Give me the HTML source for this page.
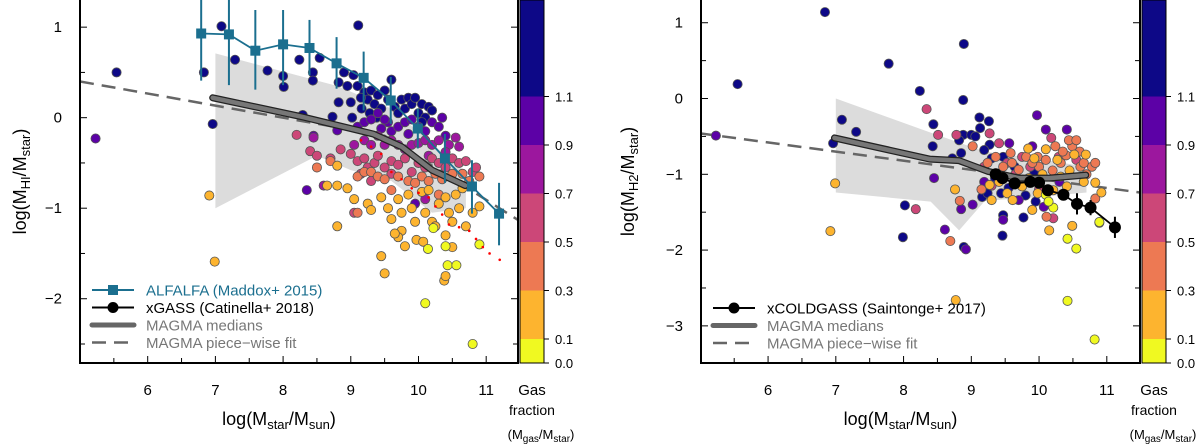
<!DOCTYPE html>
<html><head><meta charset="utf-8"><style>
html,body{margin:0;padding:0;background:#fff;width:1200px;height:445px;overflow:hidden}
svg{display:block;font-family:"Liberation Sans",sans-serif}
</style></head><body>
<svg id="chart" width="1200" height="445" viewBox="0 0 1200 445" xmlns="http://www.w3.org/2000/svg"></svg>
<script>
// ---------- data: left panel (HI) ----------
const hiC6=[[5.54,0.50],[6.83,0.50],[6.96,-0.07],[7.09,1.01],[7.29,0.64],[7.77,0.52],[8.0,0.46],[8.01,0.34],[8.24,0.64],[8.44,0.50],[8.44,0.41],[8.54,0.66],[9.11,1.02],[8.29,0.03],[8.73,0.01],[8.82,0.39],[8.82,0.17],[8.90,0.50],[9.04,0.47],[9.0,0.17],[9.02,0.0],[9.16,0.10],[9.1,0.35],[9.2,0.28],[9.25,0.2],[9.3,0.3],[9.35,0.15],[9.4,0.25],[9.45,0.1],[9.5,0.3],[9.55,0.2],[9.6,0.42],[9.65,0.12],[9.7,0.05],[9.75,0.2],[9.8,0.1],[9.85,0.22],[9.9,0.15],[9.95,0.22],[10.0,0.05],[10.05,0.15],[10.1,0.0],[10.15,0.12],[10.2,0.08],[9.28,0.05],[9.38,0.0],[9.15,0.22],[10.05,-0.05],[8.95,0.35]];
const hiC5=[[5.23,-0.23],[8.45,-0.2],[8.8,-0.14],[9.1,-0.1],[9.2,-0.05],[9.3,-0.02],[9.4,0.05],[9.45,-0.12],[9.55,-0.05],[9.6,-0.15],[9.7,-0.1],[9.8,-0.05],[9.9,-0.02],[10.0,-0.1],[10.1,-0.15],[10.2,-0.05],[10.3,-0.1],[10.35,0.0],[10.4,-0.2],[8.35,-0.8],[9.95,-0.95],[9.5,-0.02],[9.85,-0.18]];
const hiC4=[[8.45,-0.22],[9.05,-0.3],[9.2,-0.25],[9.3,-0.3],[9.4,-0.2],[9.5,-0.3],[9.6,-0.25],[9.7,-0.3],[9.8,-0.35],[9.9,-0.3],[10.0,-0.28],[10.1,-0.25],[10.2,-0.3],[10.3,-0.25],[10.45,-0.3],[10.55,-0.22],[10.6,-0.32],[10.4,-0.38],[10.15,-0.42],[8.6,-0.75],[10.1,-0.9]];
const hiC3=[[8.2,-0.19],[8.4,-0.37],[8.5,-0.42],[8.7,-0.45],[9.0,-0.4],[9.1,-0.48],[9.2,-0.45],[9.25,-0.55],[9.35,-0.5],[9.4,-0.42],[9.5,-0.55],[9.6,-0.48],[9.7,-0.52],[9.8,-0.45],[9.9,-0.6],[10.0,-0.5],[10.1,-0.55],[10.2,-0.45],[10.3,-0.5],[10.4,-0.55],[10.5,-0.45],[10.6,-0.5],[10.7,-0.48],[9.3,-0.7],[9.6,-0.62],[10.8,-0.6],[10.85,-0.55],[8.85,-0.35],[9.05,-1.05],[9.15,-0.62]];
const hiC2=[[8.5,-0.55],[8.7,-0.48],[9.1,-0.65],[9.2,-0.6],[9.3,-0.6],[9.4,-0.65],[9.5,-0.68],[9.7,-0.65],[9.85,-0.7],[9.95,-0.72],[10.05,-0.65],[10.15,-0.7],[10.25,-0.62],[10.35,-0.68],[10.5,-0.62],[10.65,-0.62],[10.75,-0.7],[10.9,-0.65],[9.6,-0.8],[10.3,-0.85],[9.1,-1.05]];
const hiC1=[[6.91,-0.86],[6.99,-1.59],[8.65,-0.75],[8.8,-0.75],[8.8,-0.53],[8.95,-0.78],[9.05,-0.9],[9.25,-0.95],[9.3,-1.02],[9.45,-0.88],[9.55,-1.0],[9.6,-1.12],[9.7,-0.9],[9.75,-1.05],[9.85,-0.85],[9.9,-1.0],[9.95,-1.15],[10.05,-0.82],[10.1,-1.05],[10.15,-0.8],[10.2,-1.15],[10.25,-1.2],[10.3,-0.95],[10.4,-0.88],[10.45,-1.05],[10.5,-1.15],[10.55,-0.85],[10.6,-1.0],[10.7,-1.2],[10.8,-1.05],[10.9,-0.98],[10.65,-0.78],[8.8,-1.2],[9.45,-1.53],[9.5,-1.72],[9.75,-1.25],[9.8,-1.42],[9.7,-1.32],[9.97,-1.35],[10.07,-1.37],[10.4,-1.3],[10.5,-1.43],[10.38,-1.8],[10.4,-1.75],[9.65,-1.28]];
const hiC0=[[10.22,-1.22],[10.14,-1.45],[10.4,-1.42],[10.43,-1.63],[10.56,-1.63],[10.9,-1.4],[10.1,-2.05],[10.8,-2.5]];
const hiRed=[[9.15,-0.25],[9.3,-0.32],[9.45,-0.4],[9.6,-0.6],[9.75,-0.68],[9.9,-0.78],[10.0,-0.83],[10.15,-0.88],[10.25,-0.98],[10.35,-1.07],[10.45,-1.18],[10.6,-1.21],[10.75,-1.25],[10.85,-1.34],[10.95,-1.43],[11.05,-1.5],[11.2,-1.57]];
const alfX=[6.79,7.20,7.59,8.0,8.39,8.79,9.19,9.59,9.99,10.39,10.79,11.19];
const alfY=[0.93,0.92,0.74,0.81,0.77,0.60,0.44,0.19,-0.12,-0.45,-0.76,-1.06];
const alfHi=[1.5,1.5,1.19,1.19,1.08,0.89,0.73,0.45,0.10,-0.18,-0.47,-0.72];
const alfLo=[0.41,0.36,0.31,0.36,0.47,0.32,0.08,-0.07,-0.34,-0.72,-1.06,-1.41];
const hiMedX=[6.96,8.28,9.33,9.75,10.2,10.69];
const hiMedY=[0.22,0.01,-0.18,-0.32,-0.58,-0.75];
const hiFitX=[5.0,9.5,11.47];
const hiFitY=[0.40,-0.20,-1.13];
const hiShadeX=[7,8.8,9.6,10.3,10.7,10.7,10.2,9.6,9.0,8.5,7];
const hiShadeY=[0.71,0.35,0.1,-0.35,-0.6,-1.0,-1.05,-0.7,-0.58,-0.42,-1.0];
// ---------- data: right panel (H2) ----------
const h2C6=[[6.84,1.14],[5.55,0.19],[7.78,0.46],[8.89,0.72],[8.24,0.10],[8.88,-0.02],[7.09,-0.28],[7.30,-0.44],[6.96,-0.59],[8.44,-0.34],[9.12,-0.25],[9.26,-0.30],[9.13,-0.39],[8.43,-0.63],[8.85,-0.72],[8.72,-0.79],[8.88,-0.48],[9.0,-0.48],[8.82,-0.55],[9.06,-0.5],[9.27,-0.61],[9.19,-0.68],[8.02,-1.41],[7.99,-1.83],[9.46,-1.81],[9.47,-1.54],[9.77,-1.57],[9.95,-1.36],[8.89,-1.96],[9.64,-0.9],[9.3,-0.79],[9.47,-0.77],[9.16,-1.3],[9.44,-1.25],[9.24,-1.25],[9.93,-0.99],[9.35,-1.05],[9.55,-1.18],[9.8,-1.28]];
const h2C5=[[5.23,-0.49],[9.97,-0.22],[10.1,-0.41],[10.41,-0.41],[8.45,-1.05],[8.61,-1.73],[8.85,-1.46],[9.02,-1.40],[8.92,-1.99],[9.47,-1.6],[9.56,-0.59],[9.9,-0.63],[9.41,-0.99],[9.75,-1.07],[9.19,-1.1],[10.07,-1.43],[9.7,-1.34],[10.3,-1.1]];
const h2C3=[[8.34,-0.14],[8.51,-0.48],[8.78,-0.48],[9.27,-0.46],[8.18,-1.46],[9.41,-0.59],[9.75,-0.77],[10.18,-0.52],[10.29,-0.77],[9.87,-0.9],[10.21,-1.58],[9.19,-0.9],[9.53,-0.85],[10.55,-0.81],[9.65,-1.0],[10.0,-1.2],[9.3,-1.15]];
const h2C2=[[9.36,-0.77],[9.58,-0.72],[9.81,-0.77],[9.98,-0.77],[10.24,-0.63],[10.49,-0.63],[10.61,-0.90],[10.78,-0.90],[10.83,-0.85],[10.10,-0.81],[10.32,-0.85],[10.44,-0.55],[10.66,-0.85],[9.24,-0.85],[9.47,-0.90],[9.70,-0.94],[10.55,-0.55],[10.83,-1.32],[10.11,-1.56],[8.83,-1.35],[8.69,-1.88],[9.02,-0.63],[10.0,-0.9],[10.2,-0.95],[10.4,-0.75],[10.6,-0.7],[10.7,-1.0],[9.6,-0.85],[9.9,-0.85],[10.35,-0.7],[9.15,-1.2]];
const h2C1=[[6.99,-1.12],[6.92,-1.75],[8.76,-1.2],[8.77,-2.66],[10.49,-1.68],[10.89,-1.64],[10.15,-1.74],[9.9,-1.47],[10.1,-0.67],[9.84,-0.66],[10.52,-0.74],[10.69,-0.74],[10.92,-1.24],[9.3,-1.34],[9.53,-1.25],[9.75,-1.16],[9.98,-1.25],[10.21,-1.21],[10.41,-1.16],[10.83,-1.11],[9.27,-1.14],[9.61,-1.34],[10.27,-0.81],[9.41,-1.1],[9.93,-0.79],[10.32,-1.03],[10.66,-1.1],[9.85,-1.05],[10.05,-1.0],[10.45,-0.95]];
const h2C0=[[10.42,-1.85],[10.55,-1.98],[10.89,-1.63],[10.42,-2.67],[10.82,-3.18],[10.1,-1.27],[10.21,-1.44],[10.14,-1.36]];
const cgX=[9.36,9.46,9.64,9.87,10.0,10.13,10.36,10.56,10.76,11.12];
const cgY=[-1.0,-1.05,-1.12,-1.10,-1.11,-1.21,-1.27,-1.39,-1.44,-1.70];
const cgErr=[0.05,0.05,0.05,0.05,0.05,0.06,0.07,0.14,0.1,0.14];
const h2MedX=[6.98,8.39,8.82,9.24,9.70,10.15,10.69];
const h2MedY=[-0.52,-0.80,-0.82,-0.96,-1.05,-1.05,-1.01];
const h2FitX=[5.0,11.49];
const h2FitY=[-0.46,-1.24];
const h2ShadeX=[7,8.4,9.2,10,10.7,10.7,10,9.2,8.82,8.4,7];
const h2ShadeY=[0,-0.45,-0.7,-0.8,-0.9,-1.24,-1.3,-1.35,-1.74,-1.36,-1.24];
// colorbar
const cbBounds=[0.0,0.1,0.3,0.5,0.7,0.9,1.1,2.0];
const cbLabels=["0.0","0.1","0.3","0.5","0.7","0.9","1.1"];
const cbColors=["#f0f921","#fdb42f","#ed7953","#cc4778","#9c179e","#5c01a6","#0d0887"];

const NS="http://www.w3.org/2000/svg";
const svg=document.getElementById('chart');
function mk(tag,attrs,parent){const e=document.createElementNS(NS,tag);for(const k in attrs)e.setAttribute(k,attrs[k]);(parent||svg).appendChild(e);return e;}

function panel(cfg){
  const g=mk('g',{});
  
  
  const sx=v=>cfg.x0+(v-cfg.xmin)/(cfg.xmax-cfg.xmin)*(cfg.x1-cfg.x0);
  const sy=v=>cfg.y0+(cfg.ymax-v)/(cfg.ymax-cfg.ymin)*(cfg.y1-cfg.y0);
  const cp='clip-'+cfg.name;
  const defs=mk('defs',{},g);const c=mk('clipPath',{id:cp},defs);
  mk('rect',{x:cfg.x0,y:cfg.y0,width:cfg.x1-cfg.x0,height:cfg.y1-cfg.y0},c);
  const pg=mk('g',{'clip-path':'url(#'+cp+')'},g);
  const sh=mk('polygon',{points:cfg.shX.map((v,i)=>sx(v)+','+sy(cfg.shY[i])).join(' '),fill:'#dcdcdc'},pg);
  
  
  const fit=mk('polyline',{points:cfg.fitX.map((v,i)=>sx(v)+','+sy(cfg.fitY[i])).join(' '),fill:'none',stroke:'#666','stroke-width':2.5,'stroke-dasharray':'14,8'},pg);
  
  
  cfg.pts.forEach((arr,ci)=>{arr.forEach(p=>{
    const d=mk('circle',{cx:sx(p[0]),cy:sy(p[1]),r:4.6,fill:cbColors[cfg.cidx[ci]],stroke:'#555','stroke-width':0.8},pg);
    
    
  });});
  if(cfg.red) cfg.red.forEach(p=>{const d=mk('circle',{cx:sx(p[0]),cy:sy(p[1]),r:1.3,fill:'#f00'},pg);
    
    });
  const mp=cfg.medX.map((v,i)=>sx(v)+','+sy(cfg.medY[i])).join(' ');
  mk('polyline',{points:mp,fill:'none',stroke:'#222','stroke-width':7,'stroke-linejoin':'round','stroke-linecap':'round'},pg);
  const med=mk('polyline',{points:mp,fill:'none',stroke:'#777','stroke-width':4.5,'stroke-linejoin':'round','stroke-linecap':'round'},pg);
  
  
  if(cfg.alf){
    mk('polyline',{points:alfX.map((v,i)=>sx(v)+','+sy(alfY[i])).join(' '),fill:'none',stroke:'#1b6f8f','stroke-width':1.8},pg);
    alfX.forEach((v,i)=>{
      mk('line',{x1:sx(v),x2:sx(v),y1:sy(alfHi[i]),y2:sy(alfLo[i]),stroke:'#1b6f8f','stroke-width':2},pg);
      const s=mk('rect',{x:sx(v)-5,y:sy(alfY[i])-5,width:10,height:10,fill:'#1b6f8f'},pg);
      
      
    });
  }
  if(cfg.cg){
    mk('polyline',{points:cgX.map((v,i)=>sx(v)+','+sy(cgY[i])).join(' '),fill:'none',stroke:'#000','stroke-width':1.8},pg);
    cgX.forEach((v,i)=>{
      mk('line',{x1:sx(v),x2:sx(v),y1:sy(cgY[i]+cgErr[i]),y2:sy(cgY[i]-cgErr[i]),stroke:'#000','stroke-width':2},pg);
      const s=mk('circle',{cx:sx(v),cy:sy(cgY[i]),r:6,fill:'#000'},pg);
      
      
    });
  }
  for(let v=Math.ceil(cfg.xmin*2)/2;v<=cfg.xmax;v+=0.5){
    const L=Number.isInteger(v)?7:5;
    mk('line',{x1:sx(v),x2:sx(v),y1:cfg.y1,y2:cfg.y1-L,stroke:'#000','stroke-width':1},g);
  }
  for(let v=Math.ceil(cfg.ymin*2)/2;v<=cfg.ymax;v+=0.5){
    const L=Number.isInteger(v)?7:5;
    mk('line',{x1:cfg.x0,x2:cfg.x0+L,y1:sy(v),y2:sy(v),stroke:'#000','stroke-width':1},g);
    mk('line',{x1:cfg.x1,x2:cfg.x1-L,y1:sy(v),y2:sy(v),stroke:'#000','stroke-width':1},g);
  }
  cfg.xt.forEach(v=>{const t=mk('text',{x:sx(v),y:cfg.y1+32,'text-anchor':'middle','font-size':15},g);t.textContent=v;
    });
  cfg.yt.forEach(v=>{const t=mk('text',{x:cfg.x0-18,y:sy(v)+5,'text-anchor':'end','font-size':15},g);t.textContent=v<0?'\u2212'+(-v):v;
    });
  mk('rect',{x:cfg.x0,y:cfg.y0-2,width:cfg.x1-cfg.x0,height:cfg.y1-cfg.y0+2,fill:'none',stroke:'#000','stroke-width':2},g);
  const cb=mk('g',{},g);
  
  
  const cbY=v=>v<=0.1?cfg.y1-(v/0.1)*24:cfg.y1-24-(v-0.1)/0.2*48.5;
  cbColors.forEach((col,i)=>{
    const top=Math.max(cfg.y0,cbY(cbBounds[i+1])),bot=cbY(cbBounds[i]);
    mk('rect',{x:cfg.x1+2,y:top,width:24,height:bot-top,fill:col},cb);
  });
  mk('rect',{x:cfg.x1+2,y:cfg.y0,width:24,height:cfg.y1-cfg.y0,fill:'none',stroke:'#000','stroke-width':1},cb);
  cbLabels.forEach((l,i)=>{const yy=cbY(cbBounds[i]);
    mk('line',{x1:cfg.x1+26,x2:cfg.x1+31,y1:yy,y2:yy,stroke:'#000'},cb);
    const t=mk('text',{x:cfg.x1+37,y:yy+5,'font-size':13},cb);t.textContent=l;});
  const gt=[['Gas',cfg.y1+32,15],['fraction',cfg.y1+52,14]];
  gt.forEach(a=>{const t=mk('text',{x:cfg.x1+14,y:a[1],'text-anchor':'middle','font-size':a[2]},g);t.textContent=a[0];
    });
  const u=mk('text',{x:cfg.x1+23,y:cfg.y1+76,'text-anchor':'middle','font-size':13},g);
  u.innerHTML='(M<tspan font-size="10" dy="3">gas</tspan><tspan dy="-3">/M</tspan><tspan font-size="10" dy="3">star</tspan><tspan dy="-3">)</tspan>';
  
  const xl=mk('text',{x:(cfg.x0+cfg.x1)/2-20,y:cfg.y1+62,'text-anchor':'middle','font-size':18},g);
  xl.innerHTML='log(M<tspan font-size="13" dy="4">star</tspan><tspan dy="-4">/M</tspan><tspan font-size="13" dy="4">sun</tspan><tspan dy="-4">)</tspan>';
  
  const yl=mk('text',{transform:`translate(${cfg.ylx},${(cfg.y0+cfg.y1)/2}) rotate(-90)`,'text-anchor':'middle','font-size':18},g);
  yl.innerHTML='log(M<tspan font-size="13" dy="4">'+cfg.sub+'</tspan><tspan dy="-4">/M</tspan><tspan font-size="13" dy="4">star</tspan><tspan dy="-4">)</tspan>';
  
  const lg=mk('g',{},g);
  
  
  cfg.leg.forEach((e,i)=>{
    const y=cfg.legY+i*17.5, lx=cfg.legX;
    if(e.t==='sq'){mk('line',{x1:lx,x2:lx+42,y1:y,y2:y,stroke:'#1b6f8f','stroke-width':2},lg);mk('rect',{x:lx+16,y:y-5,width:10,height:10,fill:'#1b6f8f'},lg);}
    if(e.t==='ci'){mk('line',{x1:lx,x2:lx+42,y1:y,y2:y,stroke:'#000','stroke-width':2},lg);mk('circle',{cx:lx+21,cy:y,r:5.5,fill:'#000'},lg);}
    if(e.t==='med'){mk('line',{x1:lx,x2:lx+42,y1:y,y2:y,stroke:'#666','stroke-width':5,'stroke-linecap':'round'},lg);}
    if(e.t==='fit'){mk('line',{x1:lx,x2:lx+42,y1:y,y2:y,stroke:'#666','stroke-width':2.5,'stroke-dasharray':'14,8'},lg);}
    const t=mk('text',{x:lx+54,y:y+5.5,'font-size':15,fill:e.c},lg);t.textContent=e.l;
    
  });
}
panel({name:'hi-panel',x0:80,x1:518,y0:0,y1:363,xmin:5.0,xmax:11.47,ymin:-2.71,ymax:1.30,
  pts:[hiC6,hiC5,hiC4,hiC3,hiC2,hiC1,hiC0],cidx:[6,5,4,3,2,1,0],red:hiRed,
  medX:hiMedX,medY:hiMedY,fitX:hiFitX,fitY:hiFitY,shX:hiShadeX,shY:hiShadeY,alf:true,cg:false,
  xt:[6,7,8,9,10,11],yt:[1,0,-1,-2],ylx:26,sub:'HI',legX:92,legY:290,
  leg:[{t:'sq',l:'ALFALFA (Maddox+ 2015)',c:'#1b6f8f'},{t:'ci',l:'xGASS (Catinella+ 2018)',c:'#000'},{t:'med',l:'MAGMA medians',c:'#777'},{t:'fit',l:'MAGMA piece\u2212wise fit',c:'#777'}]});
panel({name:'h2-panel',x0:701,x1:1140,y0:0,y1:363,xmin:5.01,xmax:11.49,ymin:-3.49,ymax:1.30,
  pts:[h2C6,h2C5,h2C3,h2C2,h2C1,h2C0],cidx:[6,5,3,2,1,0],red:null,
  medX:h2MedX,medY:h2MedY,fitX:h2FitX,fitY:h2FitY,shX:h2ShadeX,shY:h2ShadeY,alf:false,cg:true,
  xt:[6,7,8,9,10,11],yt:[1,0,-1,-2,-3],ylx:634,sub:'H2',legX:713,legY:308,
  leg:[{t:'ci',l:'xCOLDGASS (Saintonge+ 2017)',c:'#000'},{t:'med',l:'MAGMA medians',c:'#777'},{t:'fit',l:'MAGMA piece\u2212wise fit',c:'#777'}]});
</script>
</body></html>
